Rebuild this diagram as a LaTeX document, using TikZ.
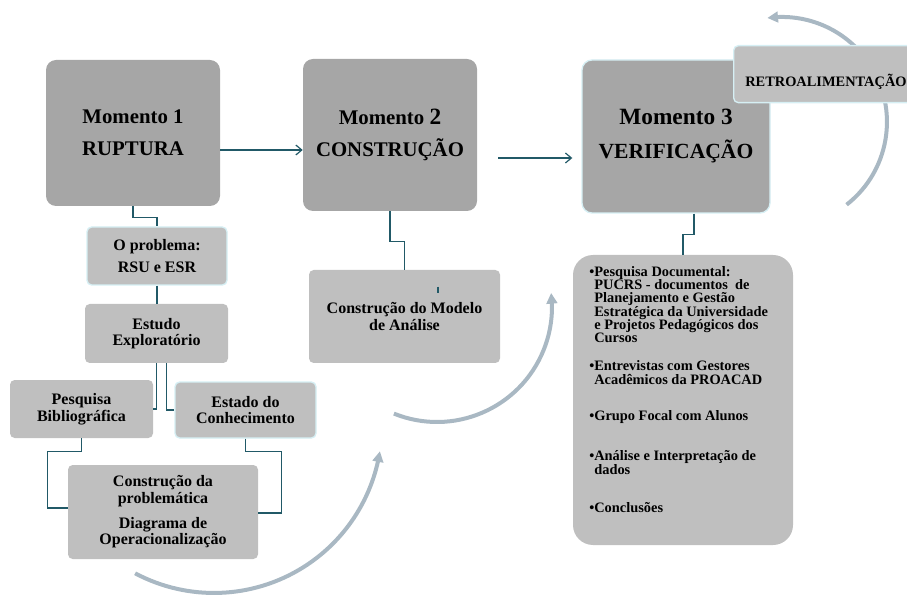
\documentclass[tikz,border=0pt]{standalone}
\usepackage{fontspec}
\setmainfont{Liberation Serif}
\usetikzlibrary{arrows.meta,bending,calc}
\definecolor{boxdark}{HTML}{A6A6A6}
\definecolor{boxlight}{HTML}{BFBFBF}
\definecolor{rimcyan}{HTML}{D6EFF4}
\definecolor{linkteal}{HTML}{215967}
\definecolor{cyclegray}{HTML}{A9B8C3}
\newcommand{\recuo}{\hphantom{•}}

\begin{document}
\begin{tikzpicture}[x=0.75pt,y=-0.75pt,
                momento/.style={rectangle,rounded corners=7.5pt,fill=boxdark,align=center,inner sep=2pt,
                    font=\bfseries\fontsize{15.6}{24}\selectfont},
                etapa/.style={rectangle,rounded corners=3.5pt,fill=boxlight,align=center,inner sep=2pt,
                    font=\bfseries\fontsize{12}{12.5}\selectfont},
                rim/.style={draw=rimcyan,line width=1pt},
                link/.style={draw=linkteal,line width=0.9pt},
                passo/.style={link,-{Straight Barb[length=4.5pt,width=7.5pt]}},
                ciclo/.style={draw=cyclegray,line width=3pt,-{Triangle[length=8pt,width=8pt]}}]
                \useasboundingbox (0,0) rectangle (907,595);
                \draw[ciclo] (135.1,573.3) arc[start angle=118,end angle=9,radius=168];
                \draw[ciclo] (393.9,413.6) arc[start angle=112,end angle=-7,radius=115];
                \draw[ciclo] (846.6,204.7) arc[start angle=52,end angle=-98,radius=105];
                \node[momento,minimum width=130.5pt,minimum height=109.5pt] (m_1) at (133,133) {Momento 1\\RUPTURA};
                \node[momento,minimum width=130.5pt,minimum height=114pt] (m_2) at (390,135) {Momento {\fontsize{17.5}{24}\selectfont 2}\\CONSTRUÇÃO};
                \node[momento,rim,minimum width=141pt,minimum height=114.75pt,
                    font=\bfseries\fontsize{16.2}{25.5}\selectfont] (m_3) at (676,136.5) {{\fontsize{17.5}{25.5}\selectfont Momento 3}\\VERIFICAÇÃO};
                \node[etapa,rim,anchor=north west,minimum width=150pt,minimum height=42.75pt] (retro) at (733,45) {};
                \node[anchor=west,inner sep=0pt,font=\bfseries\fontsize{10.8}{12}\selectfont] (retrotxt) at (745,82) {RETROALIMENTAÇÃO};
                \node[etapa,rim,minimum width=105pt,minimum height=43.5pt] (prob) at (157,256) {O problema:\\[4pt]RSU e ESR};
                \node[etapa,minimum width=107.25pt,minimum height=44.25pt] (estudo) at (156.5,333.5) {Estudo\\Exploratório};
                \node[etapa,minimum width=107.25pt,minimum height=43.5pt] (pesq) at (81.5,409) {Pesquisa\\Bibliográfica};
                \node[etapa,rim,minimum width=105.75pt,minimum height=42pt] (estado) at (245.5,410) {Estado do\\Conhecimento};
                \node[etapa,minimum width=142.5pt,minimum height=70.5pt] (constr) at (163,512)
                    {Construção da\\problemática\\[6pt]Diagrama de\\Operacionalização};
                \node[etapa,minimum width=143.25pt,minimum height=69.75pt] (modelo) at (404.5,316.5) {Construção do Modelo\\de Análise};
                \node[etapa,rounded corners=15pt,minimum width=165pt,minimum height=217.5pt] (lista) at (683,400) {};
                \node[anchor=north west,inner sep=0pt,align=left,
                    font=\bfseries\fontsize{10.8}{10}\selectfont] (listatxt) at (589,266)
                    {•Pesquisa Documental:\\\recuo PUCRS - documentos~ de\\\recuo Planejamento e Gestão\\
                    \recuo Estratégica da Universidade\\\recuo e Projetos Pedagógicos dos\\\recuo Cursos\\[11pt]
                    •Entrevistas com Gestores\\\recuo Acadêmicos da PROACAD\\[17.5pt]
                    •Grupo Focal com Alunos\\[20pt]
                    •Análise e Interpretação de\\\recuo dados\\[18.8pt]
                    •Conclusões};
                \draw[passo] ($(m_1.east)+(0,17)$) -- ($(m_2.west)+(0,15)$);
                \draw[passo] ($(m_2.east)+(21,23)$) -- ($(m_3.west)+(-9,21.5)$);
                \draw[link] (m_1.south) -- ++(0,11) -| (prob.north);
                \draw[link] (prob.south) -- (prob.south |- estudo.north);
                \draw[link] (estudo.south) |- (pesq.east);
                \draw[link] ($(estudo.south)+(10,0)$) |- (estado.west);
                \draw[link] (pesq.south) -- ++(0,13) -| ($(constr.west)+(-20,-4)$) -- ++(20,0);
                \draw[link] (estado.south) -- ++(0,13) -| ($(constr.east)+(23,1)$) -- ++(-23,0);
                \draw[link] (m_2.south) -- ++(0,30) -| (modelo.north);
                \draw[link] ($(modelo.north)+(33.5,17)$) -- ++(0,6);
                \draw[link] ($(m_3.south)+(18,0)$) -- ++(0,20.5) -| (lista.north);
             \end{tikzpicture}
\end{document}
